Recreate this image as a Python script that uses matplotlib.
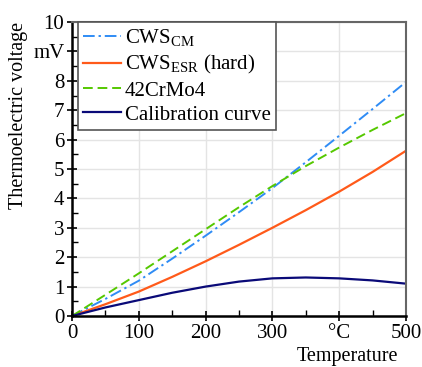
import matplotlib
matplotlib.use("Agg")
import matplotlib.pyplot as plt
from matplotlib.ticker import MultipleLocator

plt.rcParams["font.family"] = ["Liberation Serif", "DejaVu Serif"]
plt.rcParams["mathtext.fontset"] = "custom"
plt.rcParams["mathtext.rm"] = "Liberation Serif"

# temperature in degC
temperature = [0, 50, 100, 150, 200, 250, 300, 350, 400, 450, 500]

# thermoelectric voltage in mV
cws_cm = [0, 0.58, 1.2, 1.95, 2.73, 3.53, 4.35, 5.23, 6.13, 7.04, 7.96]
cws_esr = [0, 0.4, 0.83, 1.33, 1.86, 2.42, 3.0, 3.6, 4.23, 4.9, 5.62]
crmo4 = [0, 0.72, 1.45, 2.2, 2.95, 3.7, 4.42, 5.1, 5.73, 6.33, 6.9]
calibration = [0, 0.29, 0.54, 0.79, 1.0, 1.17, 1.28, 1.31, 1.28, 1.21, 1.1]

x_ticks = [0, 100, 200, 300, 400, 500]
x_labels = ["0", "100", "200", "300", "°C", "500"]
y_ticks = list(range(11))
y_labels = ["0", "1", "2", "3", "4", "5", "6", "7", "8", "mV", "10"]

fig = plt.figure(figsize=(4.22, 3.67), dpi=100)
ax = fig.add_axes([0.1706, 0.139, 0.7914, 0.801])

ax.plot(temperature, cws_cm, color="#2f8cf5", lw=1.4, linestyle=(0, (6, 2, 1.2, 2)),
        label=r"CWS$_{\mathrm{CM}}$")
ax.plot(temperature, cws_esr, color="#ff5a1a", lw=1.6, linestyle="-",
        label=r"CWS$_{\mathrm{ESR}}$ (hard)")
ax.plot(temperature, crmo4, color="#55c800", lw=1.4, linestyle=(0, (5, 2.5)),
        label="42CrMo4")
ax.plot(temperature, calibration, color="#0a0a78", lw=1.6,
        label="Calibration curve")

ax.set_xlim(0, 500)
ax.set_ylim(0, 10)
ax.set_xticks(x_ticks)
ax.set_xticklabels(x_labels)
ax.set_yticks(y_ticks)
ax.set_yticklabels(y_labels)
ax.xaxis.set_minor_locator(MultipleLocator(50))
ax.yaxis.set_minor_locator(MultipleLocator(0.5))
ax.tick_params(which="major", direction="inout", length=7, width=1.2, labelsize=15, pad=2)
ax.tick_params(which="minor", direction="in", length=4, width=1.0)
ax.grid(True, which="major", color="#e4e4e4", lw=1.0)
ax.set_axisbelow(True)

for side in ["left", "bottom"]:
    ax.spines[side].set_color("black")
    ax.spines[side].set_linewidth(1.8)
for side in ["top", "right"]:
    ax.spines[side].set_color("#666666")
    ax.spines[side].set_linewidth(1.5)

leg = ax.legend(loc="upper left", fontsize=15, frameon=True, fancybox=False,
                handlelength=1.8, handletextpad=0.2, labelspacing=0.22,
                borderpad=0.25, borderaxespad=0, bbox_to_anchor=(0.018, 1.0))
leg.get_frame().set_edgecolor("#555555")
leg.get_frame().set_linewidth(1.2)
leg.get_frame().set_alpha(1)

fig.text(0.045, 0.94, "Thermoelectric voltage", rotation=90, ha="center", va="top", fontsize=14.5)
fig.text(0.943, 0.002, "Temperature", ha="right", va="bottom", fontsize=14.5)

fig.savefig("out.png", dpi=100)
